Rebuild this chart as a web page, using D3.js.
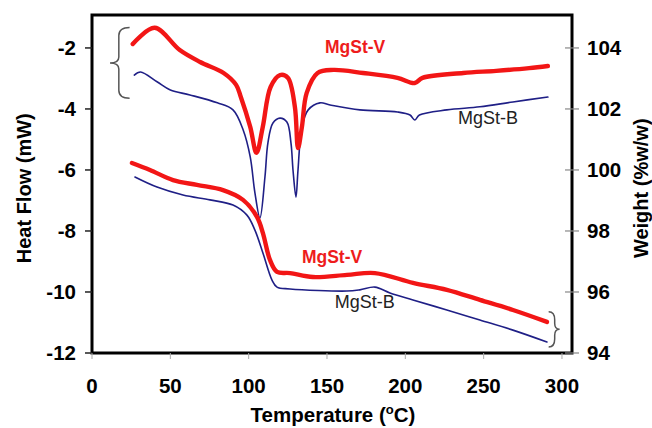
<!DOCTYPE html>
<html>
<head>
<meta charset="utf-8">
<script src="https://cdn.jsdelivr.net/npm/d3@7"></script>
<style>
  body { margin: 0; background: #fff; }
  text { font-family: "Liberation Sans", Arial, sans-serif; }
</style>
</head>
<body>
<svg width="652" height="428"></svg>
<script>
// DSC curves (heat flow, mW) - left axis
const dscV_T  = [26, 40, 56, 69, 84, 92, 95, 101, 105, 109, 114, 120, 125, 129.5, 131.5, 134, 137, 144, 154, 173, 195, 206, 211, 237, 258, 279, 291]
const dscV_HF = [-1.87, -1.34, -2.07, -2.46, -2.82, -3.21, -3.61, -4.59, -5.44, -4.59, -3.28, -2.89, -2.98, -3.93, -5.28, -4.59, -3.48, -2.82, -2.72, -2.82, -2.98, -3.15, -2.98, -2.82, -2.75, -2.66, -2.59]
const dscB_T  = [27, 31, 41.5, 50, 62.5, 80, 90, 96.5, 101, 104, 107.2, 110.4, 112.3, 115.5, 120, 124.4, 127, 128.3, 130.2, 131.5, 134, 138, 145.5, 152, 171, 195, 203, 206, 209, 226.5, 247.6, 268.7, 291]
const dscB_HF = [-2.89, -2.79, -3.11, -3.38, -3.54, -3.80, -4.03, -4.69, -5.57, -6.75, -7.57, -6.23, -5.11, -4.46, -4.30, -4.43, -5.11, -6.0, -6.89, -6.0, -4.59, -4.03, -3.80, -3.87, -4.03, -4.10, -4.20, -4.36, -4.20, -4.03, -3.93, -3.77, -3.61]

// TGA curves (weight, %w/w) - right axis
const tgaV_T = [25.5, 37, 51.7, 67, 83.6, 96.4, 105.3, 109.1, 113.6, 118.1, 126.4, 141, 162.7, 180.6, 204.9, 226.5, 247.6, 268.7, 290.4]
const tgaV_W = [100.23, 100.0, 99.67, 99.51, 99.34, 99.02, 98.46, 97.93, 97.05, 96.66, 96.62, 96.49, 96.56, 96.62, 96.30, 96.07, 95.74, 95.41, 95.02]
const tgaB_T = [27.4, 41.5, 58.1, 75.3, 90, 98.9, 104, 109.1, 114.9, 118.1, 126.4, 162.7, 171, 180.6, 190.2, 204.9, 226.5, 247.6, 268.7, 290.4]
const tgaB_W = [99.77, 99.44, 99.18, 99.02, 98.85, 98.52, 98.03, 97.28, 96.39, 96.16, 96.10, 96.03, 96.07, 96.16, 95.97, 95.74, 95.41, 95.08, 94.75, 94.36]

const xTicks = [0, 50, 100, 150, 200, 250, 300]
const leftTicks = [-2, -4, -6, -8, -10, -12]
const rightTicks = [104, 102, 100, 98, 96, 94]

// curve labels: [text, temperature, heat-flow position, colour, bold]
const labels = [
  ['MgSt-V', 148.7, -2.16, '#ee1c1c', true],
  ['MgSt-B', 233.6, -4.49, '#222', false],
  ['MgSt-V', 134, -9.05, '#ee1c1c', true],
  ['MgSt-B', 155, -10.52, '#222', false]
]

const svg = d3.select('svg')
const margin = { top: 15, right: 80, bottom: 75, left: 92 }
const width = 652 - margin.left - margin.right
const height = 428 - margin.top - margin.bottom

const x = d3.scaleLinear().domain([0, 306.4]).range([0, width])
const yL = d3.scaleLinear().domain([-12, -0.92]).range([height, 0])
const yR = d3.scaleLinear().domain([94, 105.08]).range([height, 0])

const g = svg.append('g').attr('transform', `translate(${margin.left},${margin.top})`)

const red = '#f21616'
const blue = '#1f1f86'

const drawCurve = (T, V, scale, color, w) => {
  const pts = T.map((t, i) => [t, V[i]])
  const line = d3.line()
    .x(d => x(d[0]))
    .y(d => scale(d[1]))
    .curve(d3.curveCatmullRom.alpha(0.5))
  g.append('path')
    .attr('d', line(pts))
    .attr('fill', 'none')
    .attr('stroke', color)
    .attr('stroke-width', w)
    .attr('stroke-linejoin', 'round')
    .attr('stroke-linecap', 'round')
}

drawCurve(dscB_T, dscB_HF, yL, blue, 1.6)
drawCurve(dscV_T, dscV_HF, yL, red, 4.4)
drawCurve(tgaB_T, tgaB_W, yR, blue, 1.6)
drawCurve(tgaV_T, tgaV_W, yR, red, 4.4)

// frame
g.append('rect')
  .attr('width', width).attr('height', height)
  .attr('fill', 'none').attr('stroke', '#000').attr('stroke-width', 3)

// left ticks
leftTicks.forEach(v => {
  g.append('line').attr('x1', -7).attr('x2', 0)
    .attr('y1', yL(v)).attr('y2', yL(v))
    .attr('stroke', '#222').attr('stroke-width', 1.5)
  g.append('text').attr('x', -16).attr('y', yL(v)).attr('dy', '0.36em')
    .attr('text-anchor', 'end').attr('font-size', 20.5).attr('font-weight', 'bold')
    .text(v)
})

// right ticks (crossing, grey)
rightTicks.forEach(v => {
  g.append('line').attr('x1', width - 7).attr('x2', width + 7)
    .attr('y1', yR(v)).attr('y2', yR(v))
    .attr('stroke', '#888').attr('stroke-width', 1.2)
  g.append('text').attr('x', width + 15).attr('y', yR(v)).attr('dy', '0.36em')
    .attr('font-size', 20.5).attr('font-weight', 'bold')
    .text(v)
})

// bottom ticks
xTicks.forEach(t => {
  g.append('line').attr('x1', x(t)).attr('x2', x(t))
    .attr('y1', height).attr('y2', height + 6)
    .attr('stroke', '#aaa').attr('stroke-width', 1)
  g.append('text').attr('x', x(t)).attr('y', height + 40)
    .attr('text-anchor', 'middle').attr('font-size', 20.5).attr('font-weight', 'bold')
    .text(t)
})

// axis titles
const xt = svg.append('text')
  .attr('x', 333).attr('y', 422)
  .attr('text-anchor', 'middle').attr('font-size', 20.5).attr('font-weight', 'bold')
xt.append('tspan').text('Temperature (')
xt.append('tspan').text('o').attr('font-size', 13).attr('dy', -8)
xt.append('tspan').text('C)').attr('dy', 8)

svg.append('text')
  .attr('transform', `translate(31,${margin.top + yL(-6.6)}) rotate(-90)`)
  .attr('text-anchor', 'middle').attr('font-size', 20).attr('font-weight', 'bold')
  .text('Heat Flow (mW)')

svg.append('text')
  .attr('transform', `translate(648,${margin.top + yL(-6.6)}) rotate(-90)`)
  .attr('text-anchor', 'middle').attr('font-size', 20).attr('font-weight', 'bold')
  .text('Weight (%w/w)')

// curve labels
labels.forEach(([txt, t, v, c, b]) => {
  g.append('text').attr('x', x(t)).attr('y', yL(v))
    .attr('fill', c).attr('font-size', b ? 17.5 : 18)
    .attr('font-weight', b ? 'bold' : 'normal')
    .text(txt)
})

// curly braces
const brace = (xp, y0, y1, w, dir) => {
  // dir = 1 -> point on the left "{" ; dir = -1 -> point on the right "}"
  const ym = (y0 + y1) / 2
  const xa = xp + dir * w       // arm end
  const xb = xp + dir * w * 0.45 // spine
  return `M${xa},${y0} Q${xb},${y0} ${xb},${y0 + 8} L${xb},${ym - 6} Q${xb},${ym} ${xp},${ym}` +
         ` Q${xb},${ym} ${xb},${ym + 6} L${xb},${y1 - 8} Q${xb},${y1} ${xa},${y1}`
}
g.append('path')
  .attr('d', brace(x(11.5), yL(-1.33), yL(-3.65), x(24) - x(11.5), 1))
  .attr('fill', 'none').attr('stroke', '#555').attr('stroke-width', 1.5)
g.append('path')
  .attr('d', brace(x(298.5), yR(95.35), yR(94.2), x(298.5) - x(291.5), -1))
  .attr('fill', 'none').attr('stroke', '#555').attr('stroke-width', 1.5)
</script>
</body>
</html>
